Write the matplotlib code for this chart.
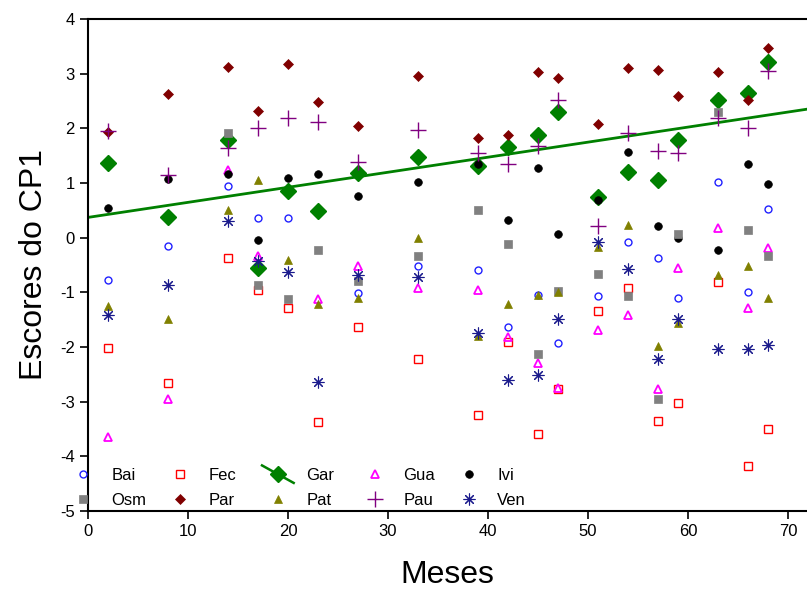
import numpy as np
import matplotlib
matplotlib.use("Agg")
import matplotlib.pyplot as plt
from matplotlib.lines import Line2D
from matplotlib.legend_handler import HandlerLine2D

plt.rcParams['font.family'] = ['Liberation Sans', 'DejaVu Sans']
plt.rcParams['axes.unicode_minus'] = False

nan = np.nan
months = [2, 8, 14, 17, 20, 23, 27, 33, 39, 42, 45, 47, 51, 54, 57, 59, 63, 66, 68]

Bai = [-0.78, -0.15, 0.95, 0.36, 0.36, nan, -1.02, -0.51, -0.59, -1.64, -1.05, -1.93, -1.06, -0.08, -0.37, -1.10, 1.01, -0.99, 0.53]
Fec = [-2.01, -2.66, -0.37, -0.96, -1.28, -3.38, -1.64, -2.22, -3.24, -1.90, -3.60, -2.76, -1.35, -0.92, -3.35, -3.02, -0.81, -4.17, -3.50]
Gar = [1.36, 0.38, 1.78, -0.55, 0.85, 0.49, 1.18, 1.47, 1.32, 1.65, 1.87, 2.30, 0.74, 1.21, 1.06, 1.79, 2.52, 2.64, 3.22]
Gua = [-3.64, -2.95, 1.24, -0.33, nan, -1.13, -0.51, -0.92, -0.96, -1.82, -2.30, -2.75, -1.69, -1.42, -2.76, -0.55, 0.17, -1.28, -0.19]
Ivi = [0.54, 1.08, 1.16, -0.04, 1.09, 1.16, 0.76, 1.01, 1.34, 0.32, 1.27, 0.07, 0.68, 1.56, 0.21, -0.01, -0.22, 1.34, 0.98]
Osm = [nan, nan, 1.92, -0.87, -1.13, -0.22, -0.79, -0.33, 0.50, -0.12, -2.12, -0.98, -0.66, -1.06, -2.95, 0.07, 2.29, 0.14, -0.33]
Par = [1.93, 2.63, 3.13, 2.31, 3.17, 2.49, 2.04, 2.95, 1.83, 1.87, 3.03, 2.92, 2.08, 3.10, 3.06, 2.59, 3.03, 2.52, 3.47]
Pat = [-1.25, -1.49, 0.51, 1.05, -0.40, -1.21, -1.11, -0.01, -1.80, -1.21, -1.05, -0.99, -0.17, 0.24, -1.98, -1.56, -0.69, -0.51, -1.10]
Pau = [1.96, 1.15, 1.64, 2.00, 2.19, 2.12, 1.38, 1.97, 1.55, 1.35, 1.68, 2.51, 0.21, 1.92, 1.59, 1.55, 2.18, 2.00, 3.05]
Ven = [-1.41, -0.87, 0.30, -0.43, -0.62, -2.64, -0.69, -0.72, -1.75, -2.61, -2.51, -1.48, -0.08, -0.58, -2.22, -1.49, -2.04, -2.04, -1.96]

series_names = ["Bai", "Fec", "Gar", "Gua", "Ivi", "Osm", "Par", "Pat", "Pau", "Ven"]
series_vals = [Bai, Fec, Gar, Gua, Ivi, Osm, Par, Pat, Pau, Ven]

styles = {
    "Bai": dict(marker='o', ms=5, mfc='none', mec='#2020ff', mew=1.0),
    "Fec": dict(marker='s', ms=5.5, mfc='none', mec='#ff0000', mew=1.0),
    "Gar": dict(marker='D', ms=8, mfc='#008000', mec='#008000', mew=1.0),
    "Gua": dict(marker='^', ms=5.5, mfc='none', mec='#ff00ff', mew=1.3),
    "Ivi": dict(marker='o', ms=5.5, mfc='black', mec='black', mew=0.5),
    "Osm": dict(marker='s', ms=5.5, mfc='#808080', mec='#808080', mew=0.5),
    "Par": dict(marker='D', ms=5.5, mfc='#800000', mec='#800000', mew=0.5),
    "Pat": dict(marker='^', ms=6, mfc='#808000', mec='#808000', mew=0.5),
    "Pau": dict(marker='+', ms=11, mfc='#800080', mec='#800080', mew=1.0),
    "Ven": dict(marker=(8, 2, 0), ms=8.5, mfc='#1a1a8c', mec='#1a1a8c', mew=0.8),
}


class SlantHandler(HandlerLine2D):
    def create_artists(self, legend, orig_handle, xdescent, ydescent,
                       width, height, fontsize, trans):
        x0, x1 = -xdescent, -xdescent + width
        yc = height / 2 - ydescent
        dy = 0.75 * height
        line = Line2D([x0, x1], [yc + dy, yc - dy], color='#008000', lw=1.8)
        line.set_transform(trans)
        mk = Line2D([(x0 + x1) / 2], [yc], linestyle='none', **styles["Gar"])
        mk.set_transform(trans)
        return [line, mk]


fig = plt.figure(figsize=(8.07, 5.94), dpi=100)
ax = fig.add_axes([88/807, 1-511/594, 1-88/807, (511-19)/594])

handles = {}
for name, vals in zip(series_names, series_vals):
    h, = ax.plot(months, vals, linestyle='none', **styles[name])
    handles[name] = h

# regression line of Gar
m = np.array(months, dtype=float)
g = np.array(Gar, dtype=float)
slope, intercept = np.polyfit(m, g, 1)
xl = np.array([0, 71.9])
ax.plot(xl, intercept + slope*xl, color='#008000', lw=2.0, zorder=1)

ax.set_xlim(0, 71.9)
ax.set_ylim(-5, 4)
ax.set_xticks(np.arange(0, 71, 10))
ax.set_yticks(np.arange(-5, 5, 1))
ax.tick_params(direction='out', length=6, width=1.2, labelsize=12)
for s in ['left', 'bottom', 'top']:
    ax.spines[s].set_linewidth(1.5)
ax.spines['right'].set_visible(False)
ax.set_xlabel("Meses", fontsize=23, labelpad=15)
ax.set_ylabel("Escores do CP1", fontsize=23, labelpad=8)

# legend: 5 columns, 2 rows
cols = [("Bai", "Osm"), ("Fec", "Par"), ("Gar", "Pat"), ("Gua", "Pau"), ("Ivi", "Ven")]
col_x = [67, 164, 262, 359, 453]
for (a, b), cx in zip(cols, col_x):
    hs = [handles[n] for n in (a, b)]
    fig.legend(hs, [a, b], loc='upper left', bbox_to_anchor=(cx/807, 1-468/594),
               frameon=False, fontsize=12, handlelength=1.9, handletextpad=0.75,
               labelspacing=0.6, borderpad=0, borderaxespad=0,
               handler_map={handles["Gar"]: SlantHandler()})

fig.savefig("out.png", dpi=100)
